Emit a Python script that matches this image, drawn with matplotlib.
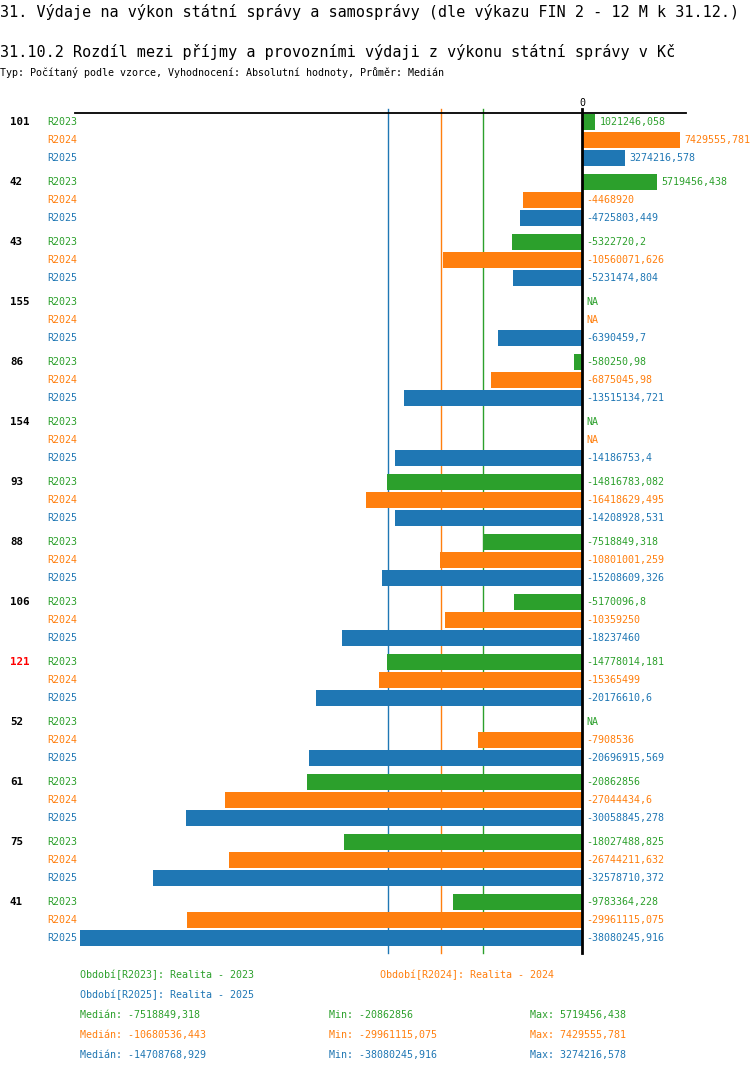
from decimal import Decimal, ROUND_HALF_UP
import numpy as np
import matplotlib
matplotlib.use("Agg")
import matplotlib.pyplot as plt
import matplotlib.transforms as mtransforms

plt.rcParams['font.family'] = ['DejaVu Sans Mono', 'DejaVu Sans']

groups = ["101", "42", "43", "155", "86", "154", "93", "88", "106", "121", "52", "61", "75", "41"]
red_groups = ["121"]
series = ["R2023", "R2024", "R2025"]
colors = ["#2ca02c", "#ff7f0e", "#1f77b4"]
legend_names = ["Období[R2023]: Realita - 2023", "Období[R2024]: Realita - 2024",
                "Období[R2025]: Realita - 2025"]
NA = None
r2023 = [1021246.058, 5719456.438, -5322720.2, NA, -580250.98, NA, -14816783.082,
         -7518849.318, -5170096.8, -14778014.181, NA, -20862856, -18027488.825, -9783364.228]
r2024 = [7429555.781, -4468920, -10560071.626, NA, -6875045.98, NA, -16418629.495,
         -10801001.259, -10359250, -15365499, -7908536, -27044434.6, -26744211.632, -29961115.075]
r2025 = [3274216.578, -4725803.449, -5231474.804, -6390459.7, -13515134.721, -14186753.4,
         -14208928.531, -15208609.326, -18237460, -20176610.6, -20696915.569, -30058845.278,
         -32578710.372, -38080245.916]
values = [r2023, r2024, r2025]


def fmt(v):
    d = Decimal(f"{v:.4f}").quantize(Decimal("0.001"), rounding=ROUND_HALF_UP)
    s = format(d, "f").rstrip("0").rstrip(".")
    return s.replace(".", ",")


W, H = 750, 1074
fig = plt.figure(figsize=(W / 100, H / 100), dpi=100)

# axes in pixel layout
ax_l, ax_r, ax_t, ax_b = 75, 686, 113, 953
ax = fig.add_axes([ax_l / W, 1 - ax_b / H, (ax_r - ax_l) / W, (ax_b - ax_t) / H])
zero_px = 582
min_px = 80
scale = (zero_px - min_px) / 38080245.916
ax.set_xlim(-(zero_px - ax_l) / scale, (ax_r - zero_px) / scale)
ax.set_ylim(ax_b - 122, ax_t - 122)
ax.axis("off")

row_gap, group_gap, bar_h = 18, 60, 16
fs = 7.2
lab_tr = mtransforms.blended_transform_factory(fig.transFigure, ax.transData)
off_tr = mtransforms.offset_copy(ax.transData, fig=fig, x=4, y=0, units="dots")
vline_tr = mtransforms.blended_transform_factory(ax.transData, ax.transAxes)

# median lines
for k in range(3):
    vals = np.array([v for v in values[k] if v is not None])
    med = np.median(vals)
    ax.plot([med, med], [1 + 4 / (ax_b - ax_t), 0], color=colors[k], lw=1,
            transform=vline_tr, clip_on=False, zorder=1)

for g, name in enumerate(groups):
    y0 = g * group_gap
    ax.text(10 / W, y0, name, transform=lab_tr, ha="left", va="center",
            fontsize=7.8, fontweight="bold",
            color="red" if name in red_groups else "black")
    for k in range(3):
        y = y0 + k * row_gap
        v = values[k][g]
        ax.text(47 / W, y, series[k], transform=lab_tr, ha="left", va="center",
                fontsize=fs, color=colors[k])
        if v is None:
            ax.text(0, y, "NA", transform=off_tr, ha="left", va="center",
                    fontsize=fs, color=colors[k])
            continue
        ax.barh(y, v, height=bar_h, color=colors[k], zorder=2)
        ax.text(max(v, 0), y, fmt(v), transform=off_tr, ha="left", va="center",
                fontsize=fs, color=colors[k])

# top line and zero line
ax.plot([0, 1], [1, 1], color="black", lw=1.3, transform=ax.transAxes, clip_on=False)
ax.plot([0, 0], [1 + 4 / (ax_b - ax_t), 0], color="black", lw=2,
        transform=vline_tr, clip_on=False, zorder=3)
ax.text(0, 1 + 10 / (ax_b - ax_t), "0", transform=vline_tr, ha="center", va="center",
        fontsize=fs, color="black")

# titles
fig.text(0, 1 - 12 / H, "31. Výdaje na výkon státní správy a samosprávy (dle výkazu FIN 2 - 12 M k 31.12.)",
         ha="left", va="center", fontsize=10.9)
fig.text(0, 1 - 52 / H, "31.10.2 Rozdíl mezi příjmy a provozními výdaji z výkonu státní správy v Kč",
         ha="left", va="center", fontsize=10.9)
fig.text(0, 1 - 73 / H, "Typ: Počítaný podle vzorce, Vyhodnocení: Absolutní hodnoty, Průměr: Medián",
         ha="left", va="center", fontsize=fs)

# legend
fig.text(80 / W, 1 - 975 / H, legend_names[0], color=colors[0], ha="left", va="center", fontsize=fs)
fig.text(380 / W, 1 - 975 / H, legend_names[1], color=colors[1], ha="left", va="center", fontsize=fs)
fig.text(80 / W, 1 - 995 / H, legend_names[2], color=colors[2], ha="left", va="center", fontsize=fs)
for k in range(3):
    vals = np.array([v for v in values[k] if v is not None])
    yy = 1 - (1015 + 20 * k) / H
    fig.text(80 / W, yy, "Medián: " + fmt(float(np.median(vals))), color=colors[k],
             ha="left", va="center", fontsize=fs)
    fig.text(329 / W, yy, "Min: " + fmt(float(vals.min())), color=colors[k],
             ha="left", va="center", fontsize=fs)
    fig.text(530 / W, yy, "Max: " + fmt(float(vals.max())), color=colors[k],
             ha="left", va="center", fontsize=fs)

fig.savefig("out.png", dpi=100)
